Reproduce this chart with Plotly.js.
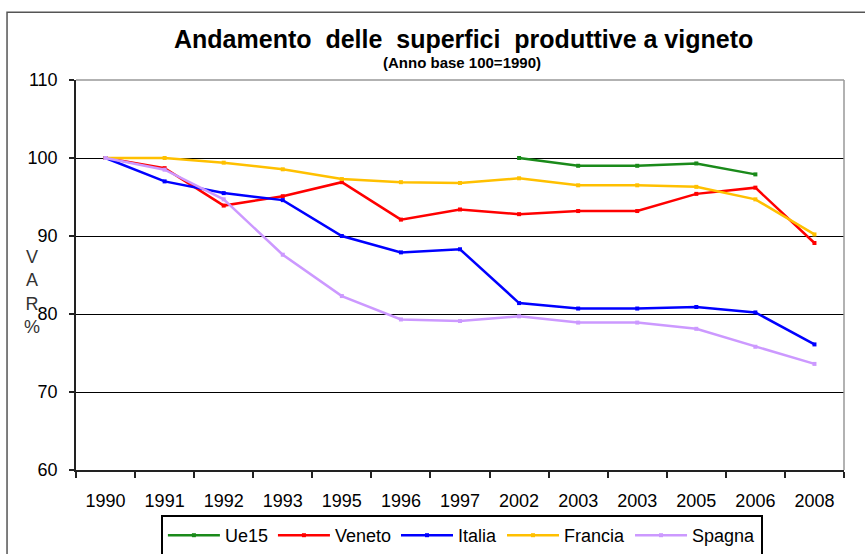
<!DOCTYPE html>
<html>
<head>
<meta charset="utf-8">
<script src="https://cdn.plot.ly/plotly-3.0.1.min.js"></script>
<style>
  body { margin: 0; background: #fff; }
  #chart { width: 865px; height: 554px; }
</style>
</head>
<body>
<div id="chart"></div>
<script>
// anni (il 2003 compare due volte nell'originale)
var anni = ['1990', '1991', '1992', '1993', '1995', '1996', '1997', '2002', '2003', '2003', '2005', '2006', '2008'];

var ue15    = [null, null, null, null, null, null, null, 100, 99.0, 99.0, 99.3, 97.9, null];
var veneto  = [100, 98.7, 93.9, 95.1, 96.9, 92.1, 93.4, 92.8, 93.2, 93.2, 95.4, 96.2, 89.1];
var italia  = [100, 97.0, 95.5, 94.6, 90.0, 87.9, 88.3, 81.4, 80.7, 80.7, 80.9, 80.2, 76.1];
var francia = [100, 100, 99.4, 98.55, 97.3, 96.9, 96.8, 97.4, 96.5, 96.5, 96.3, 94.7, 90.2];
var spagna  = [100, 98.5, 94.7, 87.6, 82.3, 79.3, 79.1, 79.7, 78.9, 78.9, 78.1, 75.8, 73.6];

var pos = anni.map(function (a, i) { return i; });

function serie(nome, valori, colore) {
  return {
    x: pos,
    y: valori,
    type: 'scatter',
    mode: 'lines+markers',
    name: nome,
    line: { color: colore, width: 2.5 },
    marker: { color: colore, size: 4, symbol: 'square' }
  };
}

var data = [
  serie('Ue15', ue15, '#1a8a1a'),
  serie('Veneto', veneto, '#ff0000'),
  serie('Italia', italia, '#0000ff'),
  serie('Francia', francia, '#ffc000'),
  serie('Spagna', spagna, '#cc99ff')
];

var font = 'Liberation Sans, Arial, sans-serif';

var layout = {
  width: 865,
  height: 554,
  margin: { l: 76, r: 21, t: 80, b: 84 },
  paper_bgcolor: '#fff',
  plot_bgcolor: '#fff',
  showlegend: true,
  font: { family: font, color: '#000' },
  xaxis: {
    range: [-0.5, 12.5],
    tickvals: pos,
    ticktext: anni,
    ticks: '',
    ticklabelstandoff: 14,
    tickfont: { size: 18, family: font },
    showgrid: false,
    zeroline: false,
    showline: true,
    linecolor: '#222',
    linewidth: 1.5,
    minor: { tick0: -0.5, dtick: 1, ticks: 'outside', ticklen: 6, tickcolor: '#222', tickwidth: 1.5, showgrid: false }
  },
  yaxis: {
    range: [60, 110],
    tickvals: [60, 70, 80, 90, 100, 110],
    ticks: 'outside',
    ticklen: 5,
    tickcolor: '#222',
    tickwidth: 1.5,
    ticklabelstandoff: 8,
    tickfont: { size: 18, family: font },
    showgrid: true,
    gridcolor: '#000',
    gridwidth: 1.2,
    zeroline: false,
    showline: true,
    linecolor: '#222',
    linewidth: 1.5
  },
  legend: {
    orientation: 'h',
    xref: 'container',
    yref: 'container',
    x: 0.534,
    xanchor: 'center',
    y: 0.0704,
    yanchor: 'top',
    bordercolor: '#000',
    borderwidth: 2,
    font: { size: 18, family: font },
    itemwidth: 52,
    tracegroupgap: 0
  },
  shapes: [
    // bordo esterno del grafico
    { type: 'rect', xref: 'paper', yref: 'paper', x0: -0.0898, x1: 1.04, y0: -0.25, y1: 1.174,
      line: { color: '#555', width: 1.5 } },
    // bordo superiore e destro dell'area del grafico
    { type: 'line', xref: 'paper', yref: 'paper', x0: 0, x1: 1, y0: 1, y1: 1, line: { color: '#999', width: 1.5 } },
    { type: 'line', xref: 'paper', yref: 'paper', x0: 1, x1: 1, y0: 0, y1: 1, line: { color: '#999', width: 1.5 } }
  ],
  annotations: [
    { text: '<b>Andamento&nbsp; delle&nbsp; superfici&nbsp; produttive a vigneto</b>', xref: 'paper', yref: 'paper',
      x: 0.505, y: 1.105, xanchor: 'center', yanchor: 'middle', showarrow: false,
      font: { size: 25, family: font } },
    { text: '<b>(Anno base 100=1990)</b>', xref: 'paper', yref: 'paper',
      x: 0.503, y: 1.046, xanchor: 'center', yanchor: 'middle', showarrow: false,
      font: { size: 15, family: font } },
    { text: 'V<br>A<br>R<br>%', xref: 'paper', yref: 'paper',
      x: -0.057, y: 0.456, xanchor: 'center', yanchor: 'middle', showarrow: false,
      font: { size: 18, family: font, color: '#333' } }
  ]
};

Plotly.newPlot('chart', data, layout, { displayModeBar: false });
</script>
</body>
</html>
